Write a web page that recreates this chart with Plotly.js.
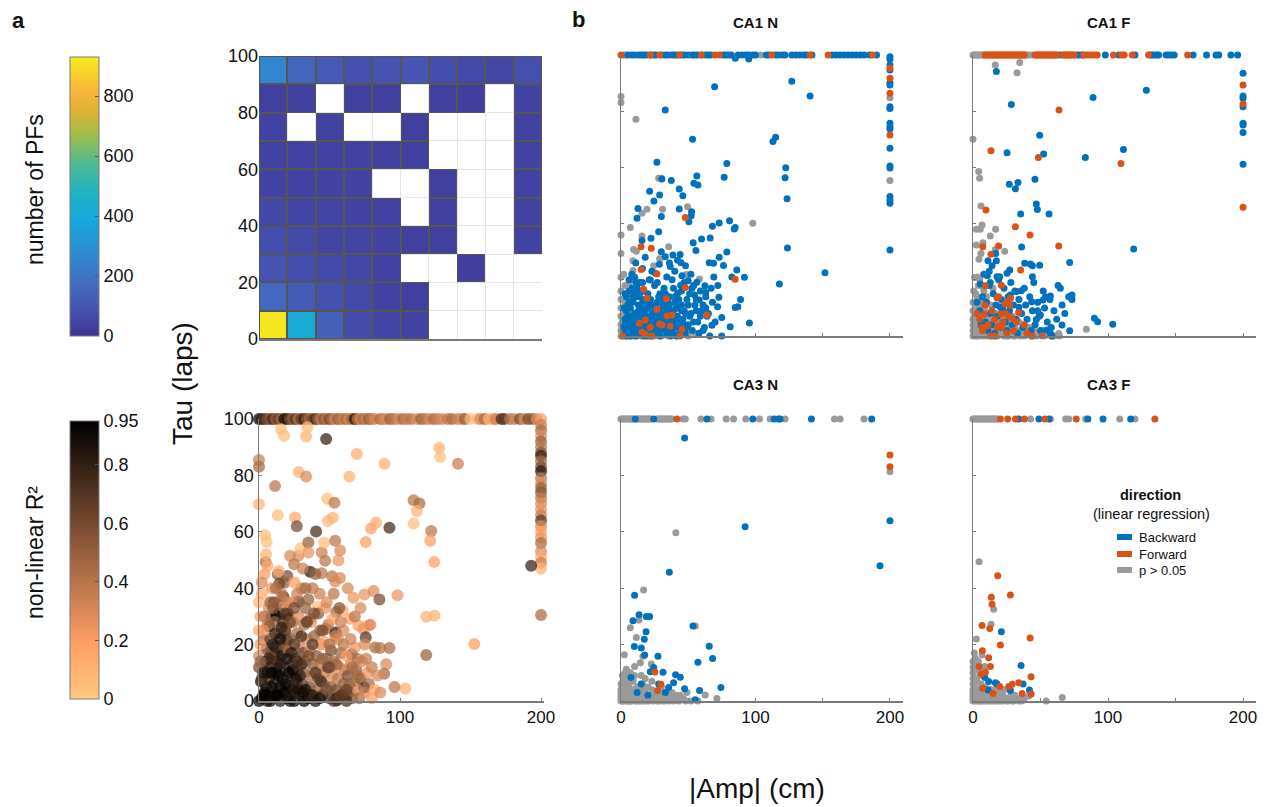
<!DOCTYPE html>
<html>
<head>
<meta charset="utf-8">
<script src="https://cdn.plot.ly/plotly-3.0.1.min.js"></script>
<style>
  html, body { margin: 0; padding: 0; background: #ffffff; }
  #chart { width: 1270px; height: 807px; }
</style>
</head>
<body>
<div id="chart"></div>
<script>
// ---------- panel a (top): PF counts binned by |Amp| (cm) and Tau (laps) ----------
const ampBins = [10, 30, 50, 70, 90, 110, 130, 150, 170, 190];
const tauBins = [5, 15, 25, 35, 45, 55, 65, 75, 85, 95];
const pfCounts = [
  [920, 420, 140, 70, 50, 40, null, null, null, null],
  [160, 120, 85, 60, 45, 35, null, null, null, null],
  [90, 75, 65, 55, 45, null, null, 30, null, null],
  [75, 60, 50, 50, 45, 35, 35, null, null, 40],
  [55, 50, 50, 45, 40, null, 35, null, null, 40],
  [45, 45, 45, 45, null, null, 35, null, null, 40],
  [40, 40, 40, 40, 35, 35, null, null, null, 40],
  [40, null, 40, null, null, 35, null, null, null, 40],
  [35, 35, null, 35, 35, null, 35, 30, null, 40],
  [260, 150, 110, 85, 90, 100, 75, 60, 55, 80]
];
const countTicks = [0, 200, 400, 600, 800];

// ---------- panel a (bottom): all PFs, [|Amp|, Tau, non-linear R2] ----------
const poolAll = [
  [0,100,0.95],[2,100,0.8],[4,100,0.7],[6,100,0.6],[8,100,0.55],[10,100,0.75],[12,100,0.5],[14,100,0.65],
  [16,100,0.45],[18,100,0.9],[20,100,0.85],[22,100,0.6],[24,100,0.5],[26,100,0.7],[28,100,0.4],[30,100,0.65],
  [32,100,0.8],[34,100,0.55],[36,100,0.45],[38,100,0.6],[40,100,0.75],[42,100,0.5],[44,100,0.35],[46,100,0.55],
  [48,100,0.4],[50,100,0.6],[52,100,0.45],[54,100,0.3],[56,100,0.5],[58,100,0.4],[60,100,0.35],[62,100,0.45],
  [64,100,0.3],[66,100,0.5],[68,100,0.85],[70,100,0.4],[72,100,0.3],[74,100,0.45],[76,100,0.35],[78,100,0.5],
  [80,100,0.4],[82,100,0.3],[86,100,0.45],[88,100,0.35],[90,100,0.3],[93,100,0.5],[96,100,0.4],[99,100,0.3],
  [102,100,0.45],[105,100,0.35],[108,100,0.4],[112,100,0.3],[115,100,0.5],[118,100,0.4],[121,100,0.3],
  [124,100,0.45],[127,100,0.35],[130,100,0.3],[134,100,0.4],[137,100,0.45],[141,100,0.35],[144,100,0.3],
  [146,100,0.5],[150,100,0.05],[155,100,0.08],[157,100,0.3],[160,100,0.45],[163,100,0.1],[166,100,0.2],
  [168,100,0.35],[172,100,0.75],[174,100,0.7],[178,100,0.4],[181,100,0.35],[185,100,0.6],[188,100,0.3],
  [191,100,0.6],[194,100,0.55],[197,100,0.3],[200,100,0.2],
  [200,98,0.35],[200,96,0.45],[200,94,0.3],[200,92,0.5],[200,90,0.4],[200,88,0.55],[200,87,0.8],[200,85,0.45],
  [200,83,0.6],[200,81.5,0.85],[200,79,0.4],[200,77,0.3],[200,75.5,0.5],[200,74,0.55],[200,72,0.4],[200,70,0.3],
  [200,68,0.25],[200,66,0.35],[200,64,0.7],[200,62,0.3],[200,60,0.2],[200,58,0.25],[200,56,0.45],[200,53,0.3],
  [200,51,0.15],[200,49,0.35],[200,47,0.1],[200,30.5,0.45],[193,48,0.8],
  [15.6,96.4,0.05],[17.8,94.1,0.05],[47.6,92.9,0.8],[33.4,93.8,0.1],[34.3,97.1,0.05],[0,85.5,0.35],[0,83.1,0.45],
  [11.4,76.2,0.4],[28.2,81.2,0.1],[33.4,79.6,0.3],[64.1,79.6,0.1],[69.3,87.6,0.15],[89,84.1,0.1],
  [127.8,89.8,0.1],[128.5,86.5,0.05],[141.1,84.1,0.35],[0,69.8,0.1],[13.3,65.9,0.05],[25.6,65.1,0.15],
  [26.8,62,0.6],[48.5,71.7,0.05],[53.5,70.3,0.4],[48.8,63.8,0.1],[52.3,65,0.1],[40.5,60.1,0.75],[92.5,61.4,0.75],
  [79.5,61.2,0.2],[83,63.2,0.15],[75.7,56.4,0.2],[109.6,71.2,0.4],[113.8,70,0.45],[111.9,67.4,0.1],
  [109.6,62.9,0.05],[122.1,60.3,0.4],[121.4,56.8,0.2],[124.3,49.3,0.2],[4.3,58.8,0.05],[5.4,56.4,0.05],
  [4.7,49.3,0.45],[27.9,51.5,0.3],[29.6,54.2,0.05],[35,56.2,0.5],[35,52.7,0.25],[22,51.5,0.3],[24.9,48.5,0.4],
  [36.2,45.8,0.85],[44.5,52.7,0.35],[46.9,49.7,0.4],[44.5,45.3,0.4],[46.2,56.1,0.05],[54,56.8,0.4],
  [57.5,53.4,0.3],[56.3,49.8,0.25],[51.8,44.2,0.4],[57.5,43.6,0.3],[54,42.4,0.3],[13.3,44.9,0.55],
  [20.1,44.3,0.6],[18,41.9,0.5],[14.4,41.6,0.65],[10.4,34.9,0.85],[17.3,37,0.8],[28.2,35.2,0.7],
  [41.7,33.4,0.05],[67,36.6,0.25],[74.8,37.8,0.25],[81.2,39,0.3],[85.4,36,0.6],[98.2,37.5,0.25],
  [59.4,32.1,0.15],[64.6,29.2,0.2],[36.2,29.2,0.4],[43.3,25,0.5],[48,25.5,0.4],[54.7,31.6,0.45],
  [54.4,24.3,0.85],[70.5,26.8,0.2],[74,25.5,0.25],[77.6,26.8,0.2],[75.7,22.6,0.7],[82.4,19,0.45],
  [85.8,18.8,0.4],[92.5,18.8,0.45],[65.8,16.6,0.65],[118.6,29.9,0.1],[124.5,30.2,0.1],[118.6,16.3,0.5],
  [152.7,20.2,0.2],[103.7,4.4,0.1],[96.1,5,0.4],[90.2,13,0.3],[88.8,9.7,0.45],[74.6,4.8,0.9],[62.2,2.4,0.9],
  [55.1,0.2,0.95],[8.3,29.7,0.9],[12.5,30.3,0.95],[14.2,31.2,0.9],[19.6,30.3,0.8],[20.8,30.9,0.8],
  [7.3,26.4,0.9],[11.4,23.8,0.8],[18.5,24.6,0.85],[19.6,21.6,0.9],[3.1,21.6,0.5],[5.4,18.4,0.7],
  [11.4,16.2,0.85],[16.1,17.9,0.75],[12.5,11.9,0.9],[1.4,6.9,0.95],[14.9,5,0.95],
  [0,0,0.95],[3,2,0.9],[5,5,0.85],[2,8,0.7],[0,12,0.6],[0,16,0.3],[1,20,0.2],[0,25,0.15],[1,30,0.2],[0,35,0.1],
  [2,38,0.15],[4,45,0.2],[4,3,0.95],[6,0,0.9],[7,8,0.8],[8,12,0.75],[9,17,0.6],[8,22,0.65],[6,27,0.4],[7,33,0.3],
  [10,2,0.95],[11,6,0.9],[12,10,0.85],[13,14,0.7],[12,19,0.8],[14,24,0.65],[11,28,0.5],[13,35,0.45],[15,0,0.85],
  [16,4,0.8],[17,8,0.9],[18,12,0.75],[16,16,0.85],[17,20,0.6],[19,26,0.55],[18,33,0.4],[16,38,0.35],[20,1,0.9],
  [21,5,0.75],[22,9,0.6],[23,13,0.7],[21,18,0.45],[22,22,0.55],[24,28,0.5],[23,35,0.3],[25,0,0.95],[26,3,0.85],
  [27,7,0.65],[28,11,0.5],[26,15,0.6],[29,19,0.35],[27,24,0.45],[28,30,0.3],[30,2,0.8],[31,6,0.7],[32,10,0.55],
  [33,14,0.4],[31,17,0.65],[34,22,0.3],[32,27,0.45],[30,40,0.35],[35,1,0.85],[36,5,0.6],[37,9,0.45],[38,13,0.55],
  [36,18,0.35],[39,23,0.5],[37,28,0.25],[35,36,0.5],[40,0,0.9],[41,4,0.5],[42,8,0.65],[43,12,0.4],[41,16,0.55],
  [44,20,0.3],[42,31,0.55],[45,2,0.7],[46,6,0.45],[47,10,0.35],[48,15,0.5],[46,21,0.2],[49,27,0.4],[47,33,0.25],
  [50,1,0.75],[51,5,0.55],[52,9,0.3],[53,14,0.45],[51,18,0.6],[54,23,0.35],[52,29,0.2],[55,4,0.6],[56,8,0.4],
  [57,12,0.25],[58,17,0.5],[56,22,0.3],[59,2,0.8],[60,6,0.5],[61,11,0.35],[62,16,0.2],[60,20,0.4],[63,9,0.6],
  [64,3,0.45],[65,13,0.3],[66,1,0.55],[67,7,0.4],[68,19,0.25],[69,11,0.5],[70,4,0.35],[72,8,0.6],[73,14,0.3],
  [71,1,0.45],[75,3,0.3],[77,10,0.25],[78,6,0.45],[80,1,0.2],[82,4,0.15],[84,9,0.3],[9,40,0.25],[14,46,0.15],
  [5,52,0.1],[20,35,0.3],[25,42,0.2],[19,31,0.7],[3,25,0.25],[10,33,0.55],[33,4,0.9],[29,9,0.8],[24,11,0.9],
  [19,6,0.95],[14,9,0.95],[9,5,0.9],[5,14,0.8],[38,2,0.85],[44,7,0.75],[49,12,0.7],[55,1,0.85],[62,0,0.75],
  [45,25,0.6],[39,31,0.6],[34,28,0.7],[30,23,0.75],[25,33,0.6],
  [2,1,0.9],[5,2,0.95],[8,0,0.9],[12,2,0.9],[18,3,0.95],[22,0,0.9],[28,4,0.85],[32,0,0.95],[36,2,0.8],[43,1,0.9],
  [48,4,0.6],[53,0,0.7],[58,2,0.65],[64,6,0.5],[70,9,0.45],[3,10,0.85],[7,15,0.8],[10,20,0.85],[15,22,0.9],
  [20,15,0.9],[25,20,0.7],[30,13,0.8],[35,16,0.6],[40,10,0.7],[45,15,0.5],[50,20,0.45],[55,13,0.5],[60,25,0.3],
  [65,22,0.35],[70,15,0.4],[75,20,0.3],[80,12,0.35],[4,30,0.4],[8,35,0.5],[12,40,0.45],[17,28,0.75],[22,28,0.6],
  [27,38,0.35],[33,33,0.5],[38,40,0.4],[43,38,0.35],[48,35,0.3],[53,38,0.4],[58,28,0.35],[63,40,0.3],[68,30,0.4],
  [72,33,0.3],[2,42,0.3],[6,48,0.15],[9,10,0.95],[15,13,0.85],[21,10,0.95],[26,8,0.9],[31,3,0.9],[16,26,0.8],
  [23,17,0.85],[27,14,0.75],
  [40,45,0.5],[31,47,0.35],[66,12,0.45],[62,4,0.65],[76,15,0.35],[86,3,0.3],[79,27,0.3],[57,33,0.55],[50,12,0.6],
  [38,20,0.7],[24,4,0.9],[13,2,0.95],[6,10,0.9],[1,14,0.5],[33,40,0.45]
];
const r2Ticks = [0, 0.2, 0.4, 0.6, 0.8, 0.95];
const r2TickText = ['0', '0.2', '0.4', '0.6', '0.8', '0.95'];

// ---------- panel b: [|Amp|, Tau] per region / condition / direction ----------
const ca1nBackward = [
  [5,100],[8,100],[10,100],[13,100],[15,100],[17,100],[19,100],[22,100],[24,100],[26,100],[30,100],[33,100],
  [35,100],[38,100],[40,100],[42,100],[45,100],[47,100],[50,100],[53,100],[55,100],[57,100],[60,100],[63,100],
  [65,100],[67,100],[76,100],[78,100],[80,100],[82,100],[87,100],[90,100],[93,100],[95,100],[98,100],[100,100],
  [108,100],[110,100],[115,100],[117,100],[120,100],[122,100],[127,100],[130,100],[133,100],[136,100],[138,100],
  [142,100],[157,100],[160,100],[163,100],[166,100],[169,100],[172,100],[175,100],[178,100],[181,100],[185,100],
  [190,100],[85,98.8],[95,98.6],
  [200,99.4],[200,98.5],[200,96.4],[200,94.7],[200,90.1],[200,89.3],[200,81.6],[200,81],[200,75.7],[200,74.5],
  [200,73.7],[200,66.8],[200,60.5],[200,59.8],[200,49.6],[200,48.4],[200,47.2],[200,30.6],
  [69.6,88.7],[127,90.7],[140.6,85.4],[32.9,80.4],[53.2,70],[113,69.2],[115,70.7],[78.7,61.4],[122.5,59.9],
  [122,56.3],[123.5,48.8],[26.7,61.8],[56.4,56.9],[54.2,54.4],[57.2,53.7],[76.7,56.5],[37.4,55.3],[30.4,55.9],
  [43.3,52.3],[46,49.9],[21.3,51.5],[28.7,50.2],[24.5,48],[12.6,45.4],[11.9,41.9],[43.3,45.2],[52.5,44.2],
  [52.2,42.8],[50.5,40.7],[30,42.5],[28,37.1],[22.3,34.8],[15.6,34],[68,39.1],[73,40.2],[80.7,41],[84.9,38.6],
  [84.2,38.1],[123.8,31.3],[53.7,33.2],[55.7,30.4],[59.9,34.5],[66.3,34.9],[78.7,29.9],[73,28],[76.2,25.1],
  [68.8,25.9],[65.6,26.1],[86.1,23.5],[82.4,21],[91.8,20.9],[117.8,18.5],[151.7,22.5],[95.5,4.6],[81.2,3.3],
  [88.9,13],[84.9,10.1],[86.9,10.4],[72.8,13.8],[71.8,10.4],[74.9,6.6],[67.6,3.8],[74.9,0],[62.4,17.9],[63,15.5],
  [56.4,19.1],[52.7,17],[54.7,14.6],[58.2,12.8],[45.3,21.4],[50,19.7],[44.3,18.1],[42.1,15.2],[38.6,28.8],
  [42.1,27],[44.6,26.1],[36.6,24.7],[32.9,28.2],[28.5,25.5],[25.5,22.3],[21.8,19.9],
  [3,1],[5,3],[7,0],[8,5],[9,2],[10,8],[11,0],[12,4],[13,11],[14,2],[15,6],[16,13],[17,0],[18,9],[19,3],[20,15],
  [21,7],[22,1],[23,11],[24,5],[25,18],[26,2],[27,8],[28,14],[29,0],[30,4],[31,10],[32,17],[33,6],[34,1],[35,12],
  [36,3],[37,9],[38,20],[39,5],[40,14],[41,0],[42,7],[43,11],[44,2],[45,16],[46,6],[47,9],[48,1],[49,13],[50,4],
  [52,8],[53,2],[55,11],[57,5],[58,1],[60,9],[62,3],[64,7],[66,0],[68,12],[70,5],[6,12],[8,17],[10,21],[12,14],
  [14,19],[4,9],[6,7],[9,14],[11,19],[13,6],[15,9],[17,16],[19,12],[21,20],[23,23],[25,10],[27,4],[29,12],[31,7],
  [33,15],[35,8],[37,2],[39,17],[41,10],[43,4],[45,9],[47,19],[49,3],[51,15],[54,18],[56,13],[59,16],[61,11],
  [63,14],[65,8],[67,17],[69,21],[72,18],[11,26],[16,24],[18,28],[27,19],[30,30],[34,21],[36,26],[40,23],[44,29],
  [48,25],[52,22],[6,16],[8,22],[3,6],[5,11],[7,2],[2,3],
  [4,0],[6,2],[8,1],[10,5],[11,3],[13,1],[14,7],[16,3],[18,1],[19,6],[21,3],[23,0],[24,8],[26,5],[28,2],[30,7],
  [32,3],[33,10],[35,5],[37,0],[38,7],[40,3],[42,10],[44,5],[46,1],[3,4],[5,7],[7,10],[9,12],[12,8],[15,11],
  [18,4],[20,10],[22,13],[25,7],[27,1],[29,6],[31,13],[34,8],[36,11],[39,1],[41,6],[43,13],[48,8],[50,11],[2,10],
  [4,14],[10,16],[14,15],[17,5],[20,0],[24,2],[26,11],[29,15],[33,2],[36,14],
  [5,5],[7,7],[9,4],[12,6],[13,9],[15,3],[17,8],[19,10],[21,5],[23,8],[25,4],[27,12],[30,9],[32,12],[34,4],[37,6],
  [39,9],[40,12],[45,11],[47,4],[51,7],[54,5],[56,9],[59,7],[61,2],[63,10],[3,15],[6,20],[12,17],[16,19]
];
const ca1nForward = [
  [0,100],[21.8,100],[28.7,100],[43.6,100],[59.7,100],[70,100],[73.3,100],[112,100],[140.6,100],[154,100],[187,100],
  [200,95.3],[200,91.7],[200,86.4],[200,71.5],
  [47.8,42.2],[84.9,20.2],[14.9,31.8],[22.5,31.2],[14.9,23.7],[26.7,22.1],[16.8,16.6],[47.8,17.3],[19.3,13.4],
  [33.7,13.3],[26.7,9.5],[63.9,7.5],[34.2,7.1],[37.9,7.5],[18.1,5.7],[13.6,4.5],[21.8,3.1],[30.4,3.9],[36.6,3.6],
  [28.7,4.3],[45.3,2.4],[44,0],[15.6,1.4],[18.1,0.7],[1.2,0],[23,0]
];
const ca1nNS = [
  [2,100],[3,100],[104,100],
  [200,84.8],[200,55.3],
  [0,85.2],[0,83.1],[11.1,77.1],[28,56.1],[30,56.1],[49.5,46],[30.9,45.1],[98,40.1],[15.6,43.7],[19.3,45.1],
  [6.9,38.6],[0,35.9],[15.6,35.6],[0,29.4],[9.4,30.8],[11.4,30.2],[8.9,26.8],[35.4,31.8],[28.7,27.5],[24.3,25],
  [0,20.9],[8.9,23.3],[10.6,20.3],[58.4,20.3],[48.5,21.9],
  [0,0],[0,2],[0,4],[0,7],[0,10],[0,13],[0,16],[1,1],[1,5],[2,0],[2,8],[3,3],[3,12],[4,0],[4,6],[5,1],[5,15],
  [6,4],[7,0],[7,9],[8,2],[9,0],[9,6],[10,3],[11,1],[12,0],[13,8],[14,1],[15,0],[16,4],[18,0],[19,2],[20,6],
  [22,0],[24,3],[26,0],[28,1],[30,0],[32,2],[35,0],[38,1],[42,0],[45,1],[50,0],[55,1],[3,18],[2,22],[6,19]
];

const ca1fBackward = [
  [65,100],[78,100],[81,100],[98,100],[108,100],[120,100],[131,100],[132.5,100],[134,100],[136,100],[137.5,100],
  [143,100],[145,100],[147,100],[149,100],[163,100],[173,100],[180,100],[182,100],[191,100],[196,100],
  [200,93.5],[200,85.4],[200,84.6],[200,81.6],[200,75.7],[200,75.1],[200,72.4],[200,61.1],
  [17.3,94.1],[28.4,82.4],[88.9,84.9],[128.4,87.5],[49.4,71.4],[52.3,64.8],[25.2,65.2],[83.2,63.5],[111.4,66.4],
  [26.9,54],[33.3,54.6],[31.4,52.4],[45.9,55.8],[46.9,47],[47.7,45],[56.3,43.4],[35.3,43.4],[16.8,29.4],[36,31.7],
  [11.1,26.8],[17.3,26.8],[14.1,25],[119,31],[71.6,26.2],[38.3,25.9],[42.5,25.6],[44,25],[49.4,25.2],[27.2,23.5],
  [25.2,22.3],[10.6,21.4],[17.8,21.1],[19.8,21.1],[44,21.1],[5.4,18.5],[12.8,19],[32.1,15.8],[35.8,16.1],
  [27.7,14.6],[27.2,13.4],[64.7,17],[57.3,14.2],[53.6,14],[51.9,12.8],[70.9,14],[73.3,14.6],[73.3,13],[20.2,10.4],
  [21.9,9.7],[34.1,10.2],[43.5,12.2],[47.9,9],[49.9,7.5],[46.9,5.9],[89.9,6.3],[92.3,5.1],[103.5,4.2],[65.9,3.9],
  [71.6,1.9],[54.8,2.1],[57.3,0.9],[58.5,0],
  [5,9],[7,14],[9,5],[10,12],[11,2],[12,18],[13,8],[14,4],[15,15],[16,1],[17,11],[18,7],[19,20],[20,3],[21,13],
  [22,9],[23,17],[24,5],[25,2],[26,14],[27,9],[28,19],[29,4],[30,11],[31,16],[32,6],[33,1],[34,13],[36,8],[37,3],
  [38,17],[39,11],[40,6],[42,14],[43,2],[44,9],[45,19],[46,4],[48,12],[49,7],[50,2],[52,16],[53,10],[55,5],[57,13],
  [58,3],[60,9],[62,6],[63,18],[66,11],[68,8],[6,4],[8,22],[3,12],[12,23]
];
const ca1fForward = [
  [9,100],[10,100],[11,100],[12,100],[13,100],[14,100],[15,100],[16,100],[17,100],[18,100],[19,100],[20,100],
  [21,100],[22,100],[23,100],[24,100],[25,100],[26,100],[27,100],[28,100],[29,100],[30,100],[31,100],[32,100],
  [33,100],[34,100],[35,100],[36,100],[37,100],[38,100],[46,100],[47,100],[48,100],[49,100],[50,100],[51,100],
  [52,100],[53,100],[54,100],[55,100],[56,100],[57,100],[58,100],[59,100],[60,100],[61,100],[62,100],[67,100],
  [68,100],[69,100],[70,100],[71,100],[72,100],[73,100],[74,100],[75,100],[82,100],[84,100],[86,100],[88,100],
  [90,100],[92,100],[104,100],[110,100],[112,100],[118,100],[130,100],[159,100],
  [200,89.3],[200,82.6],[200,45.8],
  [63.7,80.4],[13.3,65.9],[48.4,63.5],[109.6,61.4],[9.6,44.8],[31.4,38.9],[42.2,35.9],[7.2,31.8],[19,32],
  [63.5,32],[13.3,29.1],[35.3,23.5],[9.1,17.9],[21,18.1],[17.8,13.6],[25.7,12.2],[27.7,13.4],[23.9,11.4],
  [8.4,7.8],[20.7,7.8],[26.4,7.1],[33.8,8.4],[28.9,6.3],[43.7,0],[51.1,0.1],[6.7,3.1],[10.9,3.6],[19,3.6],
  [21.5,3.3],[16.5,0],
  [5,6],[7,2],[9,11],[11,4],[13,0],[14,9],[16,6],[18,3],[19,14],[22,5],[24,8],[25,1],[27,11],[30,2],[32,5],[3,8],
  [38,4],[40,1]
];
const ca1fNS = [
  [0,100],[1,100],[2,100],[3,100],[4,100],[5,100],[6,100],[7,100],[8,100],[39,100],[40,100],[42,100],[44,100],
  [63,100],[77,100],[80,100],
  [16.5,96.4],[34.6,97.3],[32.6,93.7],[0,70],[4.2,58.5],[4.9,56.1],[5.9,46.3],[6.7,39.5],[2.5,38],[5.4,38],
  [16.8,38],[12.8,35.6],[2.5,32.4],[7.4,33.2],[16.5,30.8],[5.9,29.4],[23.5,30.2],[4.4,27.3],[1.2,20.8],[0.5,16],
  [7.9,17],[14.8,17],[84,2.4],[63.5,0.9],
  [0,0],[0,2],[0,4],[0,6],[0,9],[0,12],[1,1],[1,7],[2,0],[2,3],[2,10],[3,5],[3,14],[4,1],[4,8],[5,0],[5,3],
  [6,12],[6,6],[7,1],[8,0],[8,4],[9,9],[10,2],[10,0],[11,6],[12,1],[13,3],[13,11],[14,0],[15,5],[16,2],[17,8],
  [18,0],[19,4],[20,1],[21,10],[22,3],[23,0],[24,6],[25,2],[26,0],[27,4],[28,1],[29,7],[30,0],[31,3],[32,1],
  [34,5],[35,0],[36,2],[38,0],[40,3],[41,1],[43,0],[45,2],[47,0],[50,1],[53,0],[56,1],[60,0],[64,0],[4,18],
  [8,16],[3,21],[10,14],
  [1,3],[3,0],[5,6],[7,3],[9,1],[11,4],[12,8],[14,2],[16,0],[17,5],[19,1],[21,6],[23,2],[25,0],[27,7],[29,3],
  [31,0],[33,2],[37,4],[39,1],[42,3],[44,0],[48,1],[52,2],[58,0],[2,15],[6,10],[5,20],[9,7]
];

const ca3nBackward = [
  [10.6,100],[24.3,100],[63.9,100],[98,100],[113.9,100],[117,100],[118.3,100],[141.6,100],[186.4,100],
  [200,63.9],[192.6,48],
  [47.3,93.3],[92.3,61.8],[35.9,45.7],[10.1,37.5],[13.4,30.6],[18.8,30],[21.3,30],[8.9,28.5],[18.6,24.6],
  [17.3,21.9],[9.9,19.3],[15.1,18.8],[17.6,16.3],[27.5,15.9],[53.5,26.6],[65.6,19.4],[68.1,15.1],[57.2,13.7],
  [24.3,11.9],[21.8,10.4],[31.2,10.2],[7.4,8.3],[40.6,9.3],[44.1,8.4],[35.4,4.8],[39.1,6.5],[47.3,4.3],
  [58.4,3.7],[74.3,4.8],[55.2,0.4],[12,3],[20,2],[28,6],[33,3],[15,6]
];
const ca3nForward = [
  [41.6,100],[200,87.2],[200,83.1],[25.2,10.3],[29.7,5.9],[27.2,3.7]
];
const ca3nNS = [
  [0,100],[1,100],[2,100],[3,100],[4,100],[5,100],[6,100],[7,100],[8,100],[9,100],[12,100],[13,100],[14,100],
  [15,100],[16,100],[17,100],[18,100],[19,100],[20,100],[21,100],[22,100],[27,100],[28,100],[29,100],[30,100],
  [31,100],[32,100],[33,100],[34,100],[35,100],[36,100],[37,100],[38,100],[46,100],[47.8,100],[59.4,100],
  [67,100],[78.2,100],[83.7,100],[92.8,100],[103,100],[110.9,100],[122,100],[158.7,100],[162.9,100],[180.7,100],
  [200,81.3],
  [40.8,59.7],[16.8,39.4],[13.4,28.7],[6.9,26],[11.4,22.5],[2.5,16.4],[16.3,15.9],[3.96,11.3],[10.1,12.2],
  [14.4,13.6],[22.5,13.1],[1.5,6.9],[5.7,6.5],[62.6,2.1],[71.3,0.9],[57.2,0],[55.2,26.6],[47,0.5],[37,1.5],
  [0,0],[0,2],[0,4],[0,6],[1,1],[1,3],[2,0],[2,5],[3,2],[3,7],[4,0],[4,4],[5,1],[5,3],[6,0],[6,6],[7,2],[8,0],
  [8,4],[9,1],[9,7],[10,3],[11,0],[12,2],[12,5],[13,1],[14,0],[14,4],[15,2],[16,6],[17,0],[18,3],[19,1],[20,5],
  [21,0],[22,2],[23,4],[24,0],[25,1],[26,3],[28,0],[29,2],[30,5],[32,1],[33,0],[35,3],[37,1],[39,0],[41,2],[43,0],
  [46,1],[49,3],[52,0],[4,9],[2,8],[7,10],[10,9],[18,8],[23,7],[15,9],
  [0,1],[0,3],[1,0],[2,2],[3,4],[4,2],[5,0],[6,3],[7,0],[8,2],[9,4],[10,1],[11,3],[12,0],[13,5],[14,2],[15,0],
  [16,3],[17,1],[18,5],[19,0],[20,2],[22,1],[24,3],[26,1],[27,0],[29,4],[31,0],[34,2],[36,0],[38,3],[42,1],[44,2],
  [48,0],[1,9],[3,10],[6,8],[9,8]
];

const ca3fBackward = [
  [33.9,100],[48.8,100],[56.2,100],[85.1,100],[96.3,100],[116.8,100],
  [21,24.6],[35.6,12.6],[8.7,8.3],[11.6,6.9],[16.6,6.5],[17.8,6],[37.1,6],[41.8,3.9],[27.7,3.7],[11.1,3.9]
];
const ca3fForward = [
  [20.3,100],[25.7,100],[31.4,100],[38.1,100],[53.2,100],[76.5,100],[134.7,100],
  [18.3,44.4],[27.7,37.6],[13.6,36.8],[14.1,34.3],[6.7,26.8],[12.4,25.7],[42.3,22.3],[20.3,19.9],[6.9,17.8],
  [11.6,15.3],[4.5,12.2],[12.9,12.2],[6.2,9.6],[9.2,10.2],[43,8.6],[29,5.9],[33.9,6.5],[26.5,5.1],[19.8,5.1],
  [7.2,4.5],[36.4,2.7],[43.1,2.5],[14.9,2.7]
];
const ca3fNS = [
  [0,100],[1,100],[2,100],[3,100],[4,100],[5,100],[6,100],[7,100],[8,100],[9,100],[10,100],[11,100],[12,100],
  [13,100],[14,100],[15,100],[16,100],[17,100],[18,100],[42.6,100],[57.4,100],[68.6,100],[71,100],[83.4,100],
  [108.7,100],[120,100],
  [4.5,49.4],[15.3,32.5],[13.4,27.2],[2.5,22],[1.7,15.2],[6.7,16.3],[8.7,12.2],[66.1,1.2],[54.2,0],[41.3,1.8],
  [32.7,0.6],[23,4],[20,3.5],
  [0,0],[0,2],[0,4],[0,6],[0,8],[0,10],[1,1],[1,5],[2,0],[2,3],[3,7],[3,1],[4,0],[4,4],[5,2],[5,9],[6,0],[6,6],
  [7,1],[8,3],[8,0],[9,5],[10,1],[11,0],[12,3],[13,1],[14,0],[15,2],[16,4],[17,0],[18,1],[19,3],[20,0],[21,2],
  [22,0],[24,1],[26,0],[28,2],[30,0],[33,1],[36,0],[38,1],[2,13],[1,17],[4,14],
  [0,1],[0,3],[1,3],[2,1],[3,3],[4,2],[5,0],[6,2],[7,4],[8,1],[9,0],[10,3],[11,2],[12,0],[13,4],[14,1],[15,0],
  [16,2],[17,3],[18,0],[20,1],[22,2],[25,0],[27,1],[29,0],[31,2],[34,0],[1,8],[3,11],[5,12],[0,12],[0,14],[6,10]
];

const directionNames = ['Backward', 'Forward', 'p > 0.05'];

// ---------- styling ----------
const W = 1270, H = 807;
const fx = p => p / W;          // pixel column -> paper fraction
const fy = p => 1 - p / H;      // pixel row -> paper fraction
const FONT = 'Liberation Sans, Arial, Helvetica, sans-serif';
const AXIS_GRAY = '#7a7a7a';
const BLUE = '#0072BD', ORANGE = '#D95319', GRAY = '#9a9a9a';

const parula = [
  [0.00, 'rgb(62,52,148)'], [0.10, 'rgb(70,84,178)'], [0.20, 'rgb(66,112,194)'],
  [0.30, 'rgb(46,140,210)'], [0.42, 'rgb(20,168,222)'], [0.52, 'rgb(34,180,190)'],
  [0.62, 'rgb(80,186,145)'], [0.72, 'rgb(160,190,75)'], [0.80, 'rgb(220,178,52)'],
  [0.88, 'rgb(250,182,58)'], [1.00, 'rgb(245,236,28)']
];
const copperRev = [
  [0.0, 'rgb(255,199,127)'], [0.2, 'rgb(255,159,102)'], [0.4, 'rgb(191,120,76)'],
  [0.6, 'rgb(128,80,51)'], [0.8, 'rgb(64,40,25)'], [1.0, 'rgb(0,0,0)']
];

const xs = a => a.map(p => p[0]);
const ys = a => a.map(p => p[1]);

const traces = [];

// cell borders: a flat gray layer under the coloured cells, visible through the gaps
traces.push({
  type: 'heatmap', x: ampBins, y: tauBins,
  z: pfCounts.map(r => r.map(v => (v === null ? null : 1))),
  colorscale: [[0, '#555555'], [1, '#555555']], showscale: false,
  hoverinfo: 'skip', xaxis: 'x', yaxis: 'y'
});
traces.push({
  type: 'heatmap', x: ampBins, y: tauBins, z: pfCounts,
  zmin: 0, zmax: 930, colorscale: parula, xgap: 2, ygap: 2,
  xaxis: 'x', yaxis: 'y',
  colorbar: {
    x: fx(70), xanchor: 'left', xpad: 0, y: fy(57), yanchor: 'top', ypad: 0,
    len: 279 / H, lenmode: 'fraction', thickness: 29, thicknessmode: 'pixels',
    outlinecolor: AXIS_GRAY, outlinewidth: 1,
    tickvals: countTicks, ticks: 'inside', ticklen: 4, tickcolor: '#555',
    tickfont: { family: FONT, size: 18, color: '#111' }
  }
});

traces.push({
  type: 'scatter', mode: 'markers', x: xs(poolAll), y: ys(poolAll),
  xaxis: 'x2', yaxis: 'y2', cliponaxis: false, hoverinfo: 'skip',
  marker: {
    size: 12, opacity: 0.72, color: poolAll.map(p => p[2]),
    cmin: 0, cmax: 0.95, colorscale: copperRev, line: { width: 0 },
    showscale: true,
    colorbar: {
      x: fx(70), xanchor: 'left', xpad: 0, y: fy(421), yanchor: 'top', ypad: 0,
      len: 278 / H, lenmode: 'fraction', thickness: 29, thicknessmode: 'pixels',
      outlinecolor: AXIS_GRAY, outlinewidth: 1,
      tickvals: r2Ticks, ticktext: r2TickText, ticks: 'inside', ticklen: 4, tickcolor: '#555',
      tickfont: { family: FONT, size: 18, color: '#111' }
    }
  }
});

function dirTraces(groups, xa, ya) {
  const [bw, fw, ns] = groups;
  return [
    [ns, GRAY, directionNames[2]], [bw, BLUE, directionNames[0]], [fw, ORANGE, directionNames[1]]
  ].map(([pts, c, nm]) => ({
    type: 'scatter', mode: 'markers', name: nm, x: xs(pts), y: ys(pts),
    xaxis: xa, yaxis: ya, cliponaxis: false, hoverinfo: 'skip', showlegend: false,
    marker: { size: 7, color: c, line: { width: 0 } }
  }));
}
traces.push(...dirTraces([ca1nBackward, ca1nForward, ca1nNS], 'x3', 'y3'));
traces.push(...dirTraces([ca1fBackward, ca1fForward, ca1fNS], 'x4', 'y4'));
traces.push(...dirTraces([ca3nBackward, ca3nForward, ca3nNS], 'x5', 'y5'));
traces.push(...dirTraces([ca3fBackward, ca3fForward, ca3fNS], 'x6', 'y6'));

const tickFont = { family: FONT, size: 17, color: '#111' };
function xAx(domain, range, labels, extra) {
  return Object.assign({
    domain, range, showgrid: false, zeroline: false,
    showline: true, linecolor: AXIS_GRAY, linewidth: 1.5,
    tickvals: [0, 100, 200], showticklabels: labels,
    ticks: 'inside', ticklen: 3, tickcolor: AXIS_GRAY, tickfont: tickFont,
    minor: { dtick: 50, tick0: 0, ticks: 'inside', ticklen: 3, tickcolor: AXIS_GRAY, showgrid: false },
    fixedrange: true
  }, extra || {});
}
function yAx(domain, labels, extra) {
  return Object.assign({
    domain, range: [0, 100], showgrid: false, zeroline: false,
    showline: true, linecolor: AXIS_GRAY, linewidth: 1.5,
    tickvals: [0, 20, 40, 60, 80, 100], showticklabels: labels,
    ticks: 'inside', ticklen: 3, tickcolor: AXIS_GRAY, tickfont: { family: FONT, size: 18, color: '#111' },
    fixedrange: true
  }, extra || {});
}

const topY = [fy(336), fy(55)];
const botY = [fy(701), fy(419)];
const bX1 = [fx(621), fx(903)];
const bX2 = [fx(973), fx(1256)];

const layout = {
  width: W, height: H, margin: { l: 0, r: 0, t: 0, b: 0 },
  paper_bgcolor: '#ffffff', plot_bgcolor: 'rgba(0,0,0,0)',
  showlegend: false, font: { family: FONT, color: '#111' },
  xaxis: {
    domain: [fx(259), fx(542)], range: [0, 200], fixedrange: true,
    showgrid: true, gridcolor: '#e4e4e4', gridwidth: 1, dtick: 20, tick0: 0,
    showticklabels: false, ticks: '', zeroline: false,
    showline: true, linecolor: AXIS_GRAY, linewidth: 1.5
  },
  yaxis: {
    domain: [fy(339), fy(56)], range: [0, 100], fixedrange: true, anchor: 'x',
    tickvals: [0, 20, 40, 60, 80, 100], showgrid: true, gridcolor: '#e4e4e4',
    minor: { dtick: 10, tick0: 0, showgrid: true, gridcolor: '#e4e4e4', ticks: '' },
    ticks: '', zeroline: false, showline: false,
    tickfont: { family: FONT, size: 18, color: '#111' }
  },
  xaxis2: xAx([fx(259), fx(544)], [0, 202.1], true, { anchor: 'y2', minor: undefined }),
  yaxis2: yAx(botY, true, { anchor: 'x2' }),
  xaxis3: xAx(bX1, [0, 209.7], false, { anchor: 'y3' }),
  yaxis3: yAx(topY, false, { anchor: 'x3' }),
  xaxis4: xAx(bX2, [0, 209.6], false, { anchor: 'y4' }),
  yaxis4: yAx(topY, false, { anchor: 'x4' }),
  xaxis5: xAx(bX1, [0, 209.7], true, { anchor: 'y5' }),
  yaxis5: yAx(botY, false, { anchor: 'x5' }),
  xaxis6: xAx(bX2, [0, 209.6], true, { anchor: 'y6' }),
  yaxis6: yAx(botY, false, { anchor: 'x6' }),
  annotations: [],
  shapes: []
};

const ann = (text, x, y, size, opts) => Object.assign({
  text, x: fx(x), y: fy(y), xref: 'paper', yref: 'paper', showarrow: false,
  xanchor: 'center', yanchor: 'middle', font: { family: FONT, size, color: '#111' }
}, opts || {});

layout.annotations.push(
  ann('<b>a</b>', 18, 20, 22),
  ann('<b>b</b>', 578, 19, 22),
  ann('<b>CA1 N</b>', 755, 22, 15),
  ann('<b>CA1 F</b>', 1108, 22, 15),
  ann('<b>CA3 N</b>', 755, 384, 15),
  ann('<b>CA3 F</b>', 1108, 384, 15),
  ann('number of PFs', 35, 190, 23, { textangle: -90 }),
  ann('non-linear R²', 35, 553, 23, { textangle: -90 }),
  ann('Tau (laps)', 182, 384, 28, { textangle: -90 }),
  ann('|Amp| (cm)', 757, 788, 28),
  ann('<b>direction</b>', 1150, 495, 14.5),
  ann('(linear regression)', 1151, 514, 14.5)
);

// direction key: swatch + label rows
const keyColors = [BLUE, ORANGE, GRAY];
const keyRows = [537, 554, 570];
directionNames.forEach((nm, i) => {
  layout.shapes.push({
    type: 'rect', xref: 'paper', yref: 'paper',
    x0: fx(1117), x1: fx(1132), y0: fy(keyRows[i] + 3), y1: fy(keyRows[i] - 3),
    fillcolor: keyColors[i], line: { width: 0 }
  });
  layout.annotations.push(ann(nm, 1137, keyRows[i], 13, { xanchor: 'left' }));
});

Plotly.newPlot('chart', traces, layout, { displayModeBar: false, staticPlot: true });
</script>
</body>
</html>
